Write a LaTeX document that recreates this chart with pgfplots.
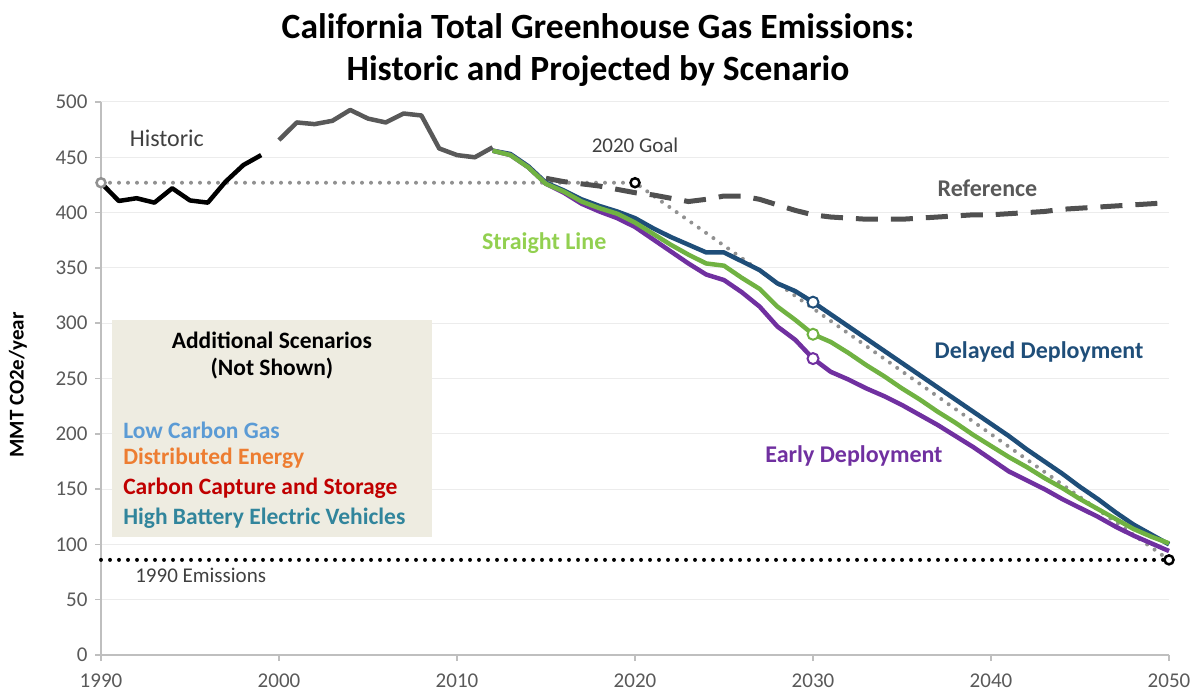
\documentclass[border=0pt]{standalone}
\usepackage{fontspec}
\setmainfont{Carlito}
\usepackage{pgfplots}
\pgfplotsset{compat=1.18}
\definecolor{histgray}{RGB}{89,89,89}
\definecolor{refgray}{RGB}{80,80,80}
\definecolor{dotgray}{RGB}{145,145,145}
\definecolor{delblue}{RGB}{31,78,121}
\definecolor{slgreen}{RGB}{112,178,66}
\definecolor{slgreentext}{RGB}{146,208,80}
\definecolor{earlyp}{RGB}{112,48,160}
\definecolor{boxfill}{RGB}{238,236,225}
\definecolor{lcg}{RGB}{91,155,213}
\definecolor{deo}{RGB}{237,125,49}
\definecolor{ccs}{RGB}{192,0,0}
\definecolor{hbev}{RGB}{49,133,156}
\definecolor{tickc}{RGB}{89,89,89}
\definecolor{axisc}{RGB}{191,191,191}
\definecolor{gridc}{RGB}{236,236,236}
\definecolor{annc}{RGB}{64,64,64}
\begin{document}
\begin{tikzpicture}
\begin{axis}[
  scale only axis, width=1068bp, height=553bp,
  xmin=1990, xmax=2050, ymin=0, ymax=500,
  xtick={1990,2000,...,2050}, ytick={0,50,...,500},
  axis x line*=bottom, axis y line*=left,
  axis line style={axisc, line width=1.5bp},
  ymajorgrids, grid style={gridc, line width=1bp},
  tick style={axisc, line width=1.5bp},
  major tick length=6bp, tick align=outside,
  ticklabel style={font=\fontsize{21bp}{21bp}\selectfont, text=tickc},
  xticklabel style={yshift=-9bp},
  yticklabel style={xshift=-4bp},
  /pgf/number format/1000 sep={},
  /pgf/number format/assume math mode=true,
  clip=false,
]
% box
\fill[boxfill] (axis cs:1990.62,303) rectangle (axis cs:2008.6,106.7);
% dotted targets
\addplot[dotgray, line width=4bp, line cap=round, dash pattern=on 0pt off 9bp] coordinates {(1990,427) (2020,427) (2050,86)};
\addplot[black, line width=4bp, line cap=round, dash pattern=on 0pt off 9bp] coordinates {(1990,86) (2050,86)};
% historic
\addplot[black, line width=4.5bp, line join=round] coordinates {
(1990,427) (1991,410.5) (1992,413) (1993,409) (1994,422) (1995,411) (1996,409) (1997,428) (1998,443) (1999,452)};
\addplot[histgray, line width=4.5bp, line join=round] coordinates {
(2000,465.6) (2001,481.5) (2002,480) (2003,483) (2004,492.8) (2005,485) (2006,481.5) (2007,489.6) (2008,487.8) (2009,458) (2010,452) (2011,450) (2012,459)};
% reference
\addplot[refgray, line width=5bp, dash pattern=on 22bp off 13bp] coordinates {
(2015,431) (2016,428) (2017,426) (2018,424) (2019,421) (2020,418) (2021,416) (2022,413) (2023,410) (2024,412) (2025,415) (2026,415) (2027,412) (2028,407) (2029,402) (2030,398) (2031,396) (2032,395) (2033,394) (2034,394) (2035,394) (2036,395) (2037,396) (2038,397) (2039,398) (2040,398) (2041,399) (2042,400) (2043,401) (2044,403) (2045,404) (2046,405) (2047,406) (2048,407) (2049,408) (2050,409)};
% delayed
\addplot[delblue, line width=4.5bp, line join=round] coordinates {
(2012,456) (2013,453) (2014,442) (2015,427) (2016,420) (2017,412) (2018,406) (2019,401) (2020,395) (2021,386) (2022,378) (2023,371) (2024,364) (2025,364) (2026,356) (2027,348) (2028,336) (2029,329) (2030,319) (2031,308) (2032,297) (2033,286) (2034,275) (2035,264) (2036,253) (2037,242) (2038,231) (2039,220) (2040,209) (2041,198) (2042,186) (2043,175) (2044,164) (2045,152) (2046,141) (2047,129) (2048,118) (2049,109) (2050,100)};
% early
\addplot[earlyp, line width=4.5bp, line join=round] coordinates {
(2012,456) (2013,452) (2014,441) (2015,426) (2016,418) (2017,408) (2018,401) (2019,395) (2020,387) (2021,376) (2022,365) (2023,354) (2024,344) (2025,339) (2026,328) (2027,315) (2028,297) (2029,285) (2030,268) (2031,256) (2032,249) (2033,241) (2034,234) (2035,226) (2036,217) (2037,208) (2038,198) (2039,188) (2040,177) (2041,166) (2042,158) (2043,150) (2044,141) (2045,133) (2046,125) (2047,116) (2048,108) (2049,101) (2050,94)};
% straight line
\addplot[slgreen, line width=4.5bp, line join=round] coordinates {
(2012,456) (2013,452) (2014,441) (2015,426) (2016,419) (2017,410) (2018,404) (2019,399) (2020,391) (2021,381) (2022,371) (2023,362) (2024,354) (2025,352) (2026,341) (2027,331) (2028,315) (2029,303) (2030,290) (2031,283) (2032,273) (2033,262) (2034,252) (2035,241) (2036,231) (2037,220) (2038,210) (2039,199) (2040,189) (2041,179) (2042,170) (2043,160) (2044,151) (2045,141) (2046,132) (2047,123) (2048,114) (2049,107) (2050,101)};
% markers
\addplot[only marks, mark=*, mark size=4.5bp, mark options={draw=dotgray, fill=white, line width=2.5bp}] coordinates {(1990,427)};
\addplot[only marks, mark=*, mark size=4.5bp, mark options={draw=black, fill=white, line width=2.5bp}] coordinates {(2020,427) (2050,86)};
\addplot[only marks, mark=*, mark size=5.5bp, mark options={draw=delblue, fill=white, line width=2bp}] coordinates {(2030,319)};
\addplot[only marks, mark=*, mark size=5.5bp, mark options={draw=slgreen, fill=white, line width=2bp}] coordinates {(2030,290)};
\addplot[only marks, mark=*, mark size=5.5bp, mark options={draw=earlyp, fill=white, line width=2bp}] coordinates {(2030,268)};
% annotations
\node[font=\fontsize{24bp}{26bp}\selectfont, text=annc] at (axis cs:1993.7,467) {Historic};
\node[font=\fontsize{21bp}{24bp}\selectfont, text=annc] at (axis cs:2020,461) {2020 Goal};
\node[font=\fontsize{21bp}{24bp}\selectfont, text=annc] at (axis cs:1995.6,72) {1990 Emissions};
\node[font=\bfseries\fontsize{24bp}{26bp}\selectfont, text=histgray] at (axis cs:2039.8,422) {Reference};
\node[font=\bfseries\fontsize{24bp}{26bp}\selectfont, text=slgreentext] at (axis cs:2014.9,372.5) {Straight Line};
\node[font=\bfseries\fontsize{24bp}{26bp}\selectfont, text=delblue] at (axis cs:2042.7,274) {Delayed Deployment};
\node[font=\bfseries\fontsize{24bp}{26bp}\selectfont, text=earlyp] at (axis cs:2032.3,180) {Early Deployment};
\node[font=\bfseries\fontsize{23.5bp}{26bp}\selectfont, text=black] at (axis cs:1999.6,284.8) {Additional Scenarios};
\node[font=\bfseries\fontsize{23.5bp}{26bp}\selectfont, text=black] at (axis cs:1999.6,258.6) {(Not Shown)};
\node[font=\bfseries\fontsize{23.5bp}{26bp}\selectfont, text=lcg, anchor=west, inner sep=0pt] at (axis cs:1991.24,203.4) {Low Carbon Gas};
\node[font=\bfseries\fontsize{23.5bp}{26bp}\selectfont, text=deo, anchor=west, inner sep=0pt] at (axis cs:1991.24,178) {Distributed Energy};
\node[font=\bfseries\fontsize{23.5bp}{26bp}\selectfont, text=ccs, anchor=west, inner sep=0pt] at (axis cs:1991.24,151) {Carbon Capture and Storage};
\node[font=\bfseries\fontsize{23.5bp}{26bp}\selectfont, text=hbev, anchor=west, inner sep=0pt] at (axis cs:1991.24,123.9) {High Battery Electric Vehicles};
\end{axis}
\node[font=\bfseries\fontsize{35.5bp}{42bp}\selectfont, align=center] at (497bp,605bp) {California Total Greenhouse Gas Emissions:\\Historic and Projected by Scenario};
\node[rotate=90, font=\bfseries\fontsize{21bp}{21bp}\selectfont] at (-83bp,270bp) {MMT CO2e/year};
\pgfresetboundingbox
\path[use as bounding box] (-101bp,-37bp) rectangle (1095bp,655bp);
\end{tikzpicture}
\end{document}
